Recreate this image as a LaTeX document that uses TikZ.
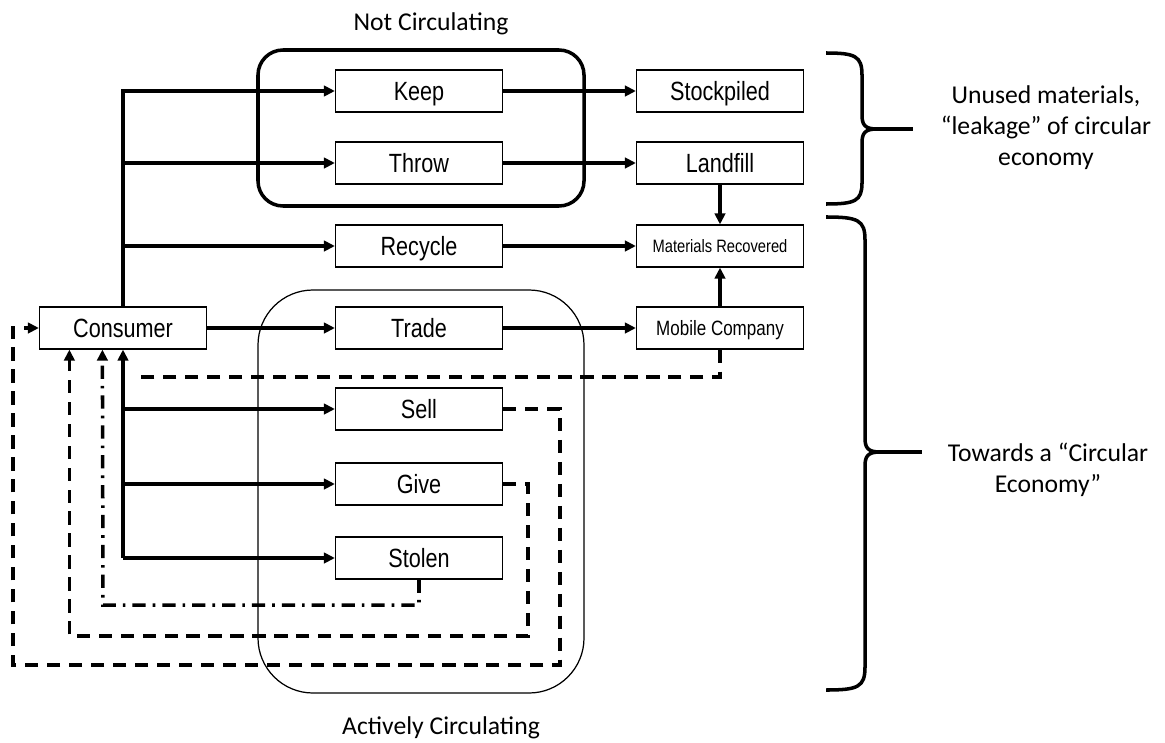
\documentclass[tikz,border=0pt]{standalone}
\usepackage{fontspec}
\setmainfont{Carlito}
\newfontfamily\boxfont{Liberation Sans}[FakeStretch=0.82]
\usetikzlibrary{arrows.meta,positioning,calc}

\begin{document}
\begin{tikzpicture}[every node/.style={font=\fontsize{14.6}{17.6}\selectfont},
  box/.style={draw, line width=0.7pt, minimum width=3.34cm, minimum height=0.84cm, inner sep=2pt, text height=10.8pt, text depth=0.5pt, font=\boxfont\fontsize{15}{16}\selectfont},
  flow/.style={line width=2pt, -{Triangle[length=2.2mm,width=2.1mm]}},
  back/.style={line width=2pt, dash pattern=on 7.5pt off 5pt},
  backdot/.style={line width=2pt, dash pattern=on 7.5pt off 4pt on 1.5pt off 4pt},
  tip/.style={-{Triangle[length=2.2mm,width=2.1mm]}},
  bracket/.style={line width=2pt}]
\useasboundingbox (0,0) rectangle (23.3,-14.84);
% the two groups
\draw[line width=2pt, rounded corners=0.5cm] (5.16,-1.0) rectangle (11.68,-4.12);
\draw[line width=0.7pt, rounded corners=1.1cm] (5.16,-5.8) rectangle (11.68,-13.86);
\node (notcirc) at (8.62,-0.48) {Not Circulating};
\node (actcirc) at (8.82,-14.56) {Actively Circulating};
% boxes
\node[box] (consumer) at (2.46,-6.56) {Consumer};
\node[box] (keep)     at (8.38,-1.82) {Keep};
\node[box] (throw)    at (8.38,-3.26) {Throw};
\node[box] (recycle)  at (8.38,-4.92) {Recycle};
\node[box] (trade)    at (8.38,-6.56) {Trade};
\node[box] (sell)     at (8.38,-8.18) {Sell};
\node[box] (give)     at (8.38,-9.68) {Give};
\node[box] (stolen)   at (8.38,-11.16) {Stolen};
\node[box] (stock)    at (14.40,-1.82) {Stockpiled};
\node[box] (landfill) at (14.40,-3.26) {Landfill};
\node[box, text height=7.4pt, text depth=0.4pt, font=\boxfont\fontsize{10.2}{12}\selectfont] (matrec) at (14.40,-4.92) {Materials Recovered};
\node[box, text height=8.5pt, text depth=0.4pt, font=\boxfont\fontsize{11.8}{13}\selectfont] (mobile) at (14.40,-6.56) {Mobile Company};
% solid flows
\draw[flow] (consumer.north) |- (keep.west);
\draw[flow] (consumer.north |- throw) -- (throw.west);
\draw[flow] (consumer.north |- recycle) -- (recycle.west);
\draw[flow] (consumer) -- (trade);
\draw[flow] (consumer.south |- stolen) -- (consumer.south);
\draw[flow] (consumer.south |- sell) -- (sell.west);
\draw[flow] (consumer.south |- give) -- (give.west);
\draw[flow] (consumer.south |- stolen) -- (stolen.west);
\draw[flow] (keep) -- (stock);
\draw[flow] (throw) -- (landfill);
\draw[flow] (recycle) -- (matrec);
\draw[flow] (trade) -- (mobile);
\draw[flow] (landfill) -- (matrec);
\draw[flow] (mobile) -- (matrec);
% returns to the consumer
\coordinate (tradeback) at (2.66,-7.54);
\draw[back] (mobile.south) |- (tradeback);
\draw[back, tip] (sell.east) -| (11.2,-13.3) -| (0.26,-6.56) -- (consumer.west);
\draw[back, tip] (give.east) -| (10.56,-12.72) -| ($(consumer.south west)+(0.61,0)$);
\draw[backdot, tip] (stolen.south) |- (2.06,-12.1) -- ($(consumer.south west)+(1.27,0)$);
% braces
\draw[bracket] (16.52,-1.06) .. controls (17.1,-1.06) and (17.24,-1.12) .. (17.24,-1.5) -- (17.24,-2.3)
  .. controls (17.24,-2.5) and (17.3,-2.58) .. (17.54,-2.58)
  .. controls (17.3,-2.58) and (17.24,-2.66) .. (17.24,-2.86) -- (17.24,-3.66)
  .. controls (17.24,-4.02) and (17.1,-4.08) .. (16.52,-4.08);
\draw[bracket] (17.54,-2.58) -- (18.26,-2.58);
\draw[bracket] (16.52,-4.34) .. controls (17.16,-4.34) and (17.3,-4.4) .. (17.3,-4.8) -- (17.3,-8.76)
  .. controls (17.3,-8.96) and (17.36,-9.04) .. (17.6,-9.04)
  .. controls (17.36,-9.04) and (17.3,-9.12) .. (17.3,-9.32) -- (17.3,-13.34)
  .. controls (17.3,-13.74) and (17.16,-13.8) .. (16.52,-13.8);
\draw[bracket] (17.6,-9.04) -- (18.44,-9.04);
\node[align=center] (unused) at (20.92,-2.56) {Unused materials,\\“leakage” of circular\\economy};
\node[align=center] (towards) at (20.96,-9.4) {Towards a “Circular\\Economy”};
\end{tikzpicture}
\end{document}
